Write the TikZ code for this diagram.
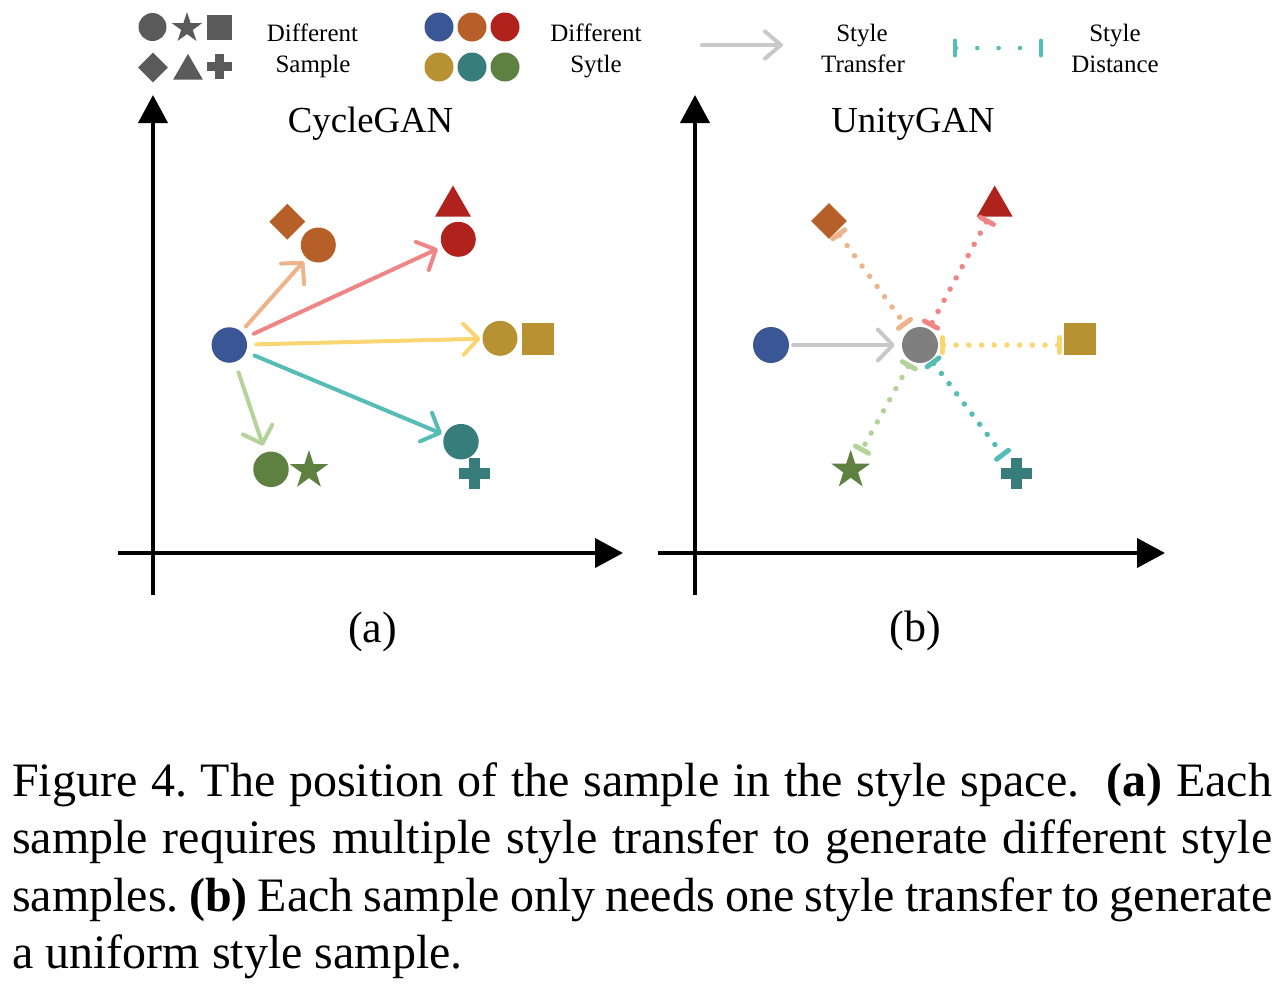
\documentclass[tikz,border=0pt]{standalone}
\usepackage{fontspec}
\setmainfont{Liberation Serif}
\usetikzlibrary{shapes.geometric,arrows.meta}
\definecolor{cgray}{HTML}{5A5A5A}
\definecolor{cblue}{HTML}{3A5694}
\definecolor{corange}{HTML}{B65F29}
\definecolor{cred}{HTML}{B0231D}
\definecolor{cgold}{HTML}{B89232}
\definecolor{cteal}{HTML}{377D7B}
\definecolor{cgreen}{HTML}{5E8040}
\definecolor{cmid}{HTML}{7F7F7F}
\definecolor{lorange}{HTML}{EDB48C}
\definecolor{lred}{HTML}{F08585}
\definecolor{lyellow}{HTML}{F9D672}
\definecolor{lteal}{HTML}{55BDB5}
\definecolor{lgreen}{HTML}{B3D39A}
\definecolor{lgray}{HTML}{C8C8C8}
\frenchspacing
\begin{document}
\begin{tikzpicture}[x=1pt,y=-1pt,
  dot/.style={circle,inner sep=0pt,minimum size=#1,draw=none},
  sq/.style={rectangle,inner sep=0pt,minimum size=#1,draw=none},
  dia/.style={diamond,aspect=1,inner sep=0pt,minimum width=#1,minimum height=#1,draw=none},
  tri/.style={regular polygon,regular polygon sides=3,inner sep=0pt,minimum size=#1,draw=none},
  starshape/.style={star,star points=5,star point ratio=2.618,inner sep=0pt,minimum size=#1,draw=none},
  hit/.style={circle,inner sep=0pt,minimum size=#1,draw=none},
  axis/.style={line width=4pt,-{Triangle[length=28pt,width=29pt]}},
  transfer/.style={line width=4pt,line cap=round,-{Straight Barb[length=15pt,width=31pt,round]}},
  dist/.style={line width=5.5pt,line cap=round,dash pattern=on 0pt off 12.7pt,
    {Bar[width=15pt,line width=5pt,round]}-{Bar[width=15pt,line width=5pt,round]}},
  legtext/.style={anchor=base,font=\fontsize{25}{30}\selectfont,inner sep=0pt},
  title/.style={anchor=base,font=\fontsize{36.7}{44}\selectfont,inner sep=0pt},
  panel/.style={anchor=base,font=\fontsize{44}{52}\selectfont,inner sep=0pt},
  capline/.style={anchor=base west,font=\fontsize{48}{57.5}\selectfont,inner sep=0pt}
]
\useasboundingbox (0,0) rectangle (1286,994);

% ---------- legend ----------
\node[dot=28pt,fill=cgray] (lgC) at (152.5,27) {};
\node[starshape=32pt,fill=cgray] (lgSt) at (187,28) {};
\node[sq=25pt,fill=cgray] (lgSq) at (219.5,27) {};
\node[dia=30pt,fill=cgray] (lgD) at (153,67.5) {};
\node[tri=34.3pt,fill=cgray] (lgT) at (188,71) {};
\node[hit=26pt] (lgP) at (219.5,66.5) {};
\fill[cgray] (lgP.center) ++(-12.5pt,-4.5pt) rectangle ++(25pt,9pt);
\fill[cgray] (lgP.center) ++(-4.5pt,-12.5pt) rectangle ++(9pt,25pt);
\node[legtext] (lgt1) at (312.5,41.5) {Different};
\node[legtext] (lgt2) at (313,72.5) {Sample};

\node[dot=29pt,fill=cblue] (lc1) at (439,27) {};
\node[dot=29pt,fill=corange] (lc2) at (472,27) {};
\node[dot=29pt,fill=cred] (lc3) at (505,27) {};
\node[dot=29pt,fill=cgold] (lc4) at (439,67) {};
\node[dot=29pt,fill=cteal] (lc5) at (472,67) {};
\node[dot=29pt,fill=cgreen] (lc6) at (505,67) {};
\node[legtext] (lgt3) at (596,41.5) {Different};
\node[legtext] (lgt4) at (596,72.5) {Sytle};

\coordinate (la1) at (702,45);
\coordinate (la2) at (783,45);
\draw[lgray,line width=4pt,line cap=round,-{Straight Barb[length=16pt,width=27pt,round]}] (la1) -- (la2);
\node[legtext] (lgt5) at (862,41.5) {Style};
\node[legtext] (lgt6) at (863,72.5) {Transfer};

\coordinate (ld1) at (953,48);
\coordinate (ld2) at (1043,48);
\draw[lteal,line width=4.5pt,line cap=round,dash pattern=on 0pt off 21.3pt,
  {Bar[width=15pt,line width=4pt,round]}-{Bar[width=15pt,line width=4pt,round]}] (ld1) -- (ld2);
\node[legtext] (lgt7) at (1115,41.5) {Style};
\node[legtext] (lgt8) at (1115,72.5) {Distance};

% ---------- panel (a) ----------
\coordinate (ay0) at (153,595);
\coordinate (ay1) at (153,95);
\coordinate (ax0) at (118,553);
\coordinate (ax1) at (623,553);
\draw[axis] (ay0) -- (ay1);
\draw[axis] (ax0) -- (ax1);
\node[title] (tA) at (370.5,132) {CycleGAN};
\node[panel] (pA) at (372.5,642) {(a)};

\node[dot=35.5pt,fill=cblue] (aB) at (229.3,345) {};
\node[dot=35pt,fill=corange] (aOc) at (318.3,245) {};
\node[dia=36pt,fill=corange] (aOd) at (287.3,221.7) {};
\node[dot=35pt,fill=cred] (aRc) at (458.3,239.3) {};
\node[tri=41.6pt,fill=cred] (aRt) at (453,206.3) {};
\node[dot=35pt,fill=cgold] (aYc) at (500,338.3) {};
\node[sq=32pt,fill=cgold] (aYs) at (538,338.7) {};
\node[dot=35.5pt,fill=cteal] (aTc) at (461,441.7) {};
\node[hit=38pt] (aTp) at (474.7,473.7) {};
\fill[cteal] (aTp.center) ++(-15.5pt,-5.5pt) rectangle ++(31pt,11pt);
\fill[cteal] (aTp.center) ++(-5.5pt,-15.5pt) rectangle ++(11pt,31pt);
\node[dot=35.5pt,fill=cgreen] (aGc) at (271,469.3) {};
\node[starshape=40.6pt,fill=cgreen] (aGs) at (309,470.3) {};

\draw[transfer,lorange,shorten <=7pt,shorten >=4pt] (aB) -- (aOc);
\draw[transfer,lred,shorten <=9pt,shorten >=5pt] (aB) -- (aRc);
\draw[transfer,lyellow,shorten <=9pt,shorten >=2pt] (aB) -- (aYc);
\draw[transfer,lteal,shorten <=9.5pt,shorten >=3pt] (aB) -- (aTc);
\draw[transfer,lgreen,shorten <=11pt,shorten >=7pt] (aB) -- (aGc);

% ---------- panel (b) ----------
\coordinate (by0) at (695,595);
\coordinate (by1) at (695,95);
\coordinate (bx0) at (658,553);
\coordinate (bx1) at (1165,553);
\draw[axis] (by0) -- (by1);
\draw[axis] (bx0) -- (bx1);
\node[title] (tB) at (913,132) {UnityGAN};
\node[panel] (pB) at (915,641) {(b)};

\node[dot=36pt,fill=cblue] (bB) at (771,345) {};
\node[dot=36pt,fill=cmid] (bG) at (920,345) {};
\node[dia=36pt,fill=corange] (bD) at (829,221) {};
\node[tri=41.6pt,fill=cred] (bT) at (994.7,206.3) {};
\node[sq=32pt,fill=cgold] (bS) at (1080,339) {};
\node[starshape=40.6pt,fill=cgreen] (bSt) at (850.7,470) {};
\node[hit=39pt] (bP) at (1016.5,473.3) {};
\fill[cteal] (bP.center) ++(-15.5pt,-5.5pt) rectangle ++(31pt,11pt);
\fill[cteal] (bP.center) ++(-5.5pt,-15.5pt) rectangle ++(11pt,31pt);

\draw[transfer,lgray,shorten <=4pt,shorten >=7pt] (bB) -- (bG);
\draw[dist,lorange,shorten <=1pt,shorten >=5.5pt] (bD) -- (bG);
\draw[dist,lred,shorten <=2pt,shorten >=2.5pt] (bT) -- (bG);
\draw[dist,lyellow,shorten <=1.5pt,shorten >=2pt] (bG) -- (bG -| bS.west);
\draw[dist,lgreen,shorten <=2.5pt,shorten >=12pt] (bG) -- (bSt);
\draw[dist,lteal,shorten <=1pt,shorten >=1pt] (bG) -- (bP);

% ---------- caption ----------
\node[capline] (c1) at (12,796) {\hbox to 1260pt{Figure 4. The position of the sample in the style space.\ \ \textbf{(a)} Each}};
\node[capline] (c2) at (12,853.5) {\hbox to 1260pt{sample requires multiple style transfer to generate different style}};
\node[capline] (c3) at (12,911) {\hbox to 1260pt{samples. \textbf{(b)} Each sample only needs one style transfer to generate}};
\node[capline] (c4) at (12,968.5) {a uniform style sample.};
\end{tikzpicture}
\end{document}
